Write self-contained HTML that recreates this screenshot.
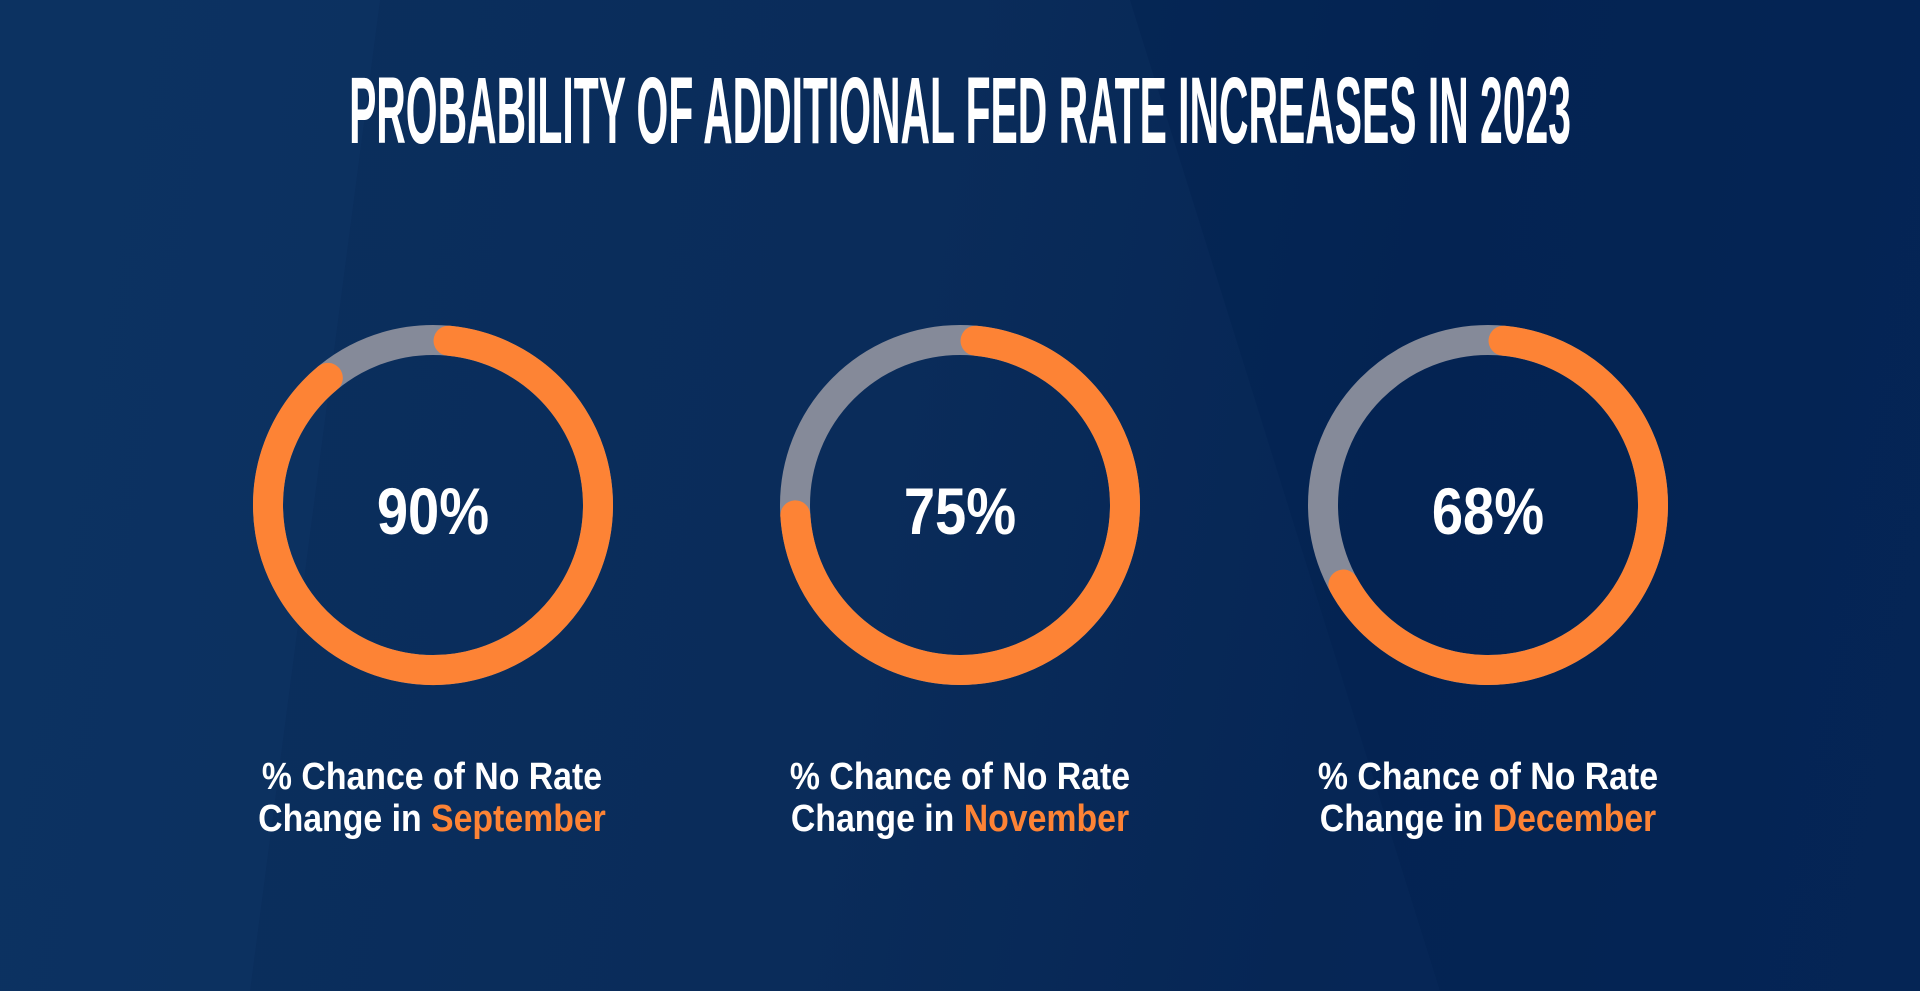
<!DOCTYPE html>
<html><head><meta charset="utf-8">
<style>
html,body{margin:0;padding:0;}
body{width:1920px;height:991px;overflow:hidden;position:relative;
background:linear-gradient(100deg,#0b2f5e 0%,#0a2c5a 45%,#062655 70%,#08285a 100%);
font-family:"Liberation Sans Narrow","Liberation Sans",sans-serif;}
.panel{position:absolute;}
h1{position:absolute;left:960px;top:57px;margin:0;color:#fff;white-space:nowrap;
font-size:95px;font-weight:bold;letter-spacing:0px;transform:translateX(-50%) scaleX(0.43);transform-origin:50% 0;font-family:"Liberation Sans Narrow","Liberation Sans",sans-serif;}
.cap{position:absolute;width:500px;text-align:center;color:#fff;font-size:38px;font-weight:bold;line-height:42px;transform:scaleX(0.89);}
.cap span{color:#fd8335;}
</style></head>
<body>
<svg class="panel" width="1920" height="991" style="left:0;top:0">
<polygon points="0,0 380,0 250,991 0,991" fill="#0e3564" opacity="0.55"/>
<polygon points="1130,0 1920,0 1920,991 1440,991" fill="#03214f" opacity="0.45"/>
</svg>
<h1>PROBABILITY OF ADDITIONAL FED RATE INCREASES IN 2023</h1>
<svg id="donuts" width="1920" height="991" style="position:absolute;left:0;top:0"></svg>
<div class="cap" style="left:182px;top:756px">% Chance of No Rate<br>Change in <span>September</span></div>
<div class="cap" style="left:710px;top:756px">% Chance of No Rate<br>Change in <span>November</span></div>
<div class="cap" style="left:1238px;top:756px">% Chance of No Rate<br>Change in <span>December</span></div>
<script>
const months = ["September","November","December"];
const values = [90,75,68];
const centersX = [433,960,1488];
const cy = 505, r = 165, sw = 30;
const svg = document.getElementById('donuts');
const NS = 'http://www.w3.org/2000/svg';
function pt(cx, frac){const a = frac*2*Math.PI - Math.PI/2;return [cx + r*Math.cos(a), cy + r*Math.sin(a)];}
function arcPath(cx, f0, f1){
  const [x0,y0]=pt(cx,f0),[x1,y1]=pt(cx,f1);
  const large=(f1-f0)>0.5?1:0;
  return `M${x0},${y0} A${r},${r} 0 ${large} 1 ${x1},${y1}`;
}
values.forEach((v,i)=>{
  const cx=centersX[i], f=v/100;
  const bg=document.createElementNS(NS,'circle');
  bg.setAttribute('cx',cx);bg.setAttribute('cy',cy);bg.setAttribute('r',r);
  bg.setAttribute('fill','none');bg.setAttribute('stroke','#858a99');bg.setAttribute('stroke-width',sw);
  
  
  svg.appendChild(bg);
  const p=document.createElementNS(NS,'path');
  p.setAttribute('d',arcPath(cx,0.015,f-0.01));
  p.setAttribute('fill','none');p.setAttribute('stroke','#fd8335');p.setAttribute('stroke-width',sw);
  p.setAttribute('stroke-linecap','round');
  
  
  svg.appendChild(p);
  const t=document.createElementNS(NS,'text');
  t.setAttribute('x',0);t.setAttribute('y',0);t.setAttribute('text-anchor','middle');
  t.setAttribute('transform',`translate(${cx},${cy+29}) scale(0.85,1)`);
  t.setAttribute('fill','#fff');t.setAttribute('font-size','66');t.setAttribute('font-weight','bold');
  t.setAttribute('font-family','"Liberation Sans Narrow","Liberation Sans",sans-serif');
  t.textContent=v+'%';
  
  
  svg.appendChild(t);
});
</script>
</body></html>
